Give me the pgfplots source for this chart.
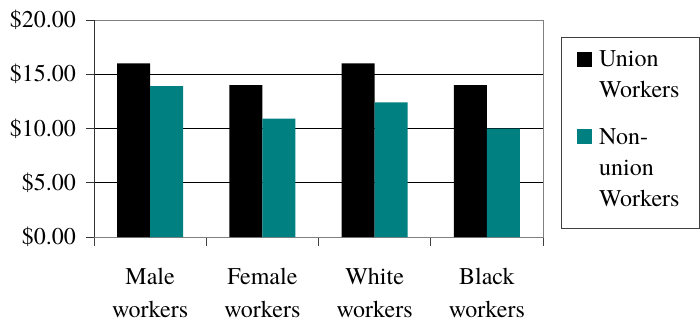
\documentclass[border=0pt]{standalone}
\usepackage{fontspec}
\setmainfont{TeX Gyre Termes}
\usepackage{pgfplots}
\pgfplotsset{compat=1.18}
\definecolor{teal80}{RGB}{0,128,128}
\definecolor{framegray}{RGB}{128,128,128}
\begin{document}
\fontsize{24}{31}\selectfont
\begin{tikzpicture}
\useasboundingbox (0,0) rectangle (700pt,322pt);
\begin{axis}[
  at={(94pt,85pt)}, anchor=south west,
  scale only axis, width=449pt, height=217pt,
  xmin=-0.5, xmax=3.5, ymin=0, ymax=20,
  ybar=0pt, bar width=33pt,
  axis line style={framegray, line width=0.9pt},
  xtick={0,1,2,3},
  xticklabels={{Male\\workers},{Female\\workers},{White\\workers},{Black\\workers}},
  minor xtick={-0.5,0.5,1.5,2.5,3.5},
  major x tick style={draw=none},
  minor x tick style={black!75, line width=0.9pt},
  minor tick length=9pt,
  xtick pos=bottom, ytick pos=left,
  tick align=outside,
  ytick={0,5,10,15,20},
  yticklabels={\$0.00,\$5.00,\$10.00,\$15.00,\$20.00},
  major tick length=8pt,
  y tick style={black!80, line width=0.9pt},
  ymajorgrids, grid style={black, line width=0.9pt},
  tick label style={font=\fontsize{24}{33}\selectfont},
  xticklabel style={align=center, inner sep=0pt, yshift=-23pt},
  yticklabel style={inner sep=0pt, xshift=-10pt},
  legend style={draw=none, fill=none, inner sep=0pt,
    at={(axis description cs:1.0757,0.8585)}, anchor=north west,
    font=\fontsize{24}{31}\selectfont,
    nodes={inner sep=0pt},
    cells={anchor=base west},
    row sep=58pt, column sep=7pt},
  legend image code/.code={\path[#1,draw=none] (0pt,0pt) rectangle (15pt,15pt);},
]
\addplot[fill=black, draw=none] coordinates {(0,16) (1,14) (2,16) (3,14)};
\addplot[fill=teal80, draw=none] coordinates {(0,13.9) (1,10.9) (2,12.4) (3,10)};
\legend{{\vtop{\hbox{Union}\hbox{Workers}}},{\vtop{\hbox{Non-}\hbox{union}\hbox{Workers}}}}
\draw[black!80, line width=0.9pt] (rel axis cs:0,0) -- (rel axis cs:0,1);
\end{axis}
\draw[black!75, line width=0.9pt] (561pt,94pt) rectangle (699.5pt,285pt);
\end{tikzpicture}
\end{document}
